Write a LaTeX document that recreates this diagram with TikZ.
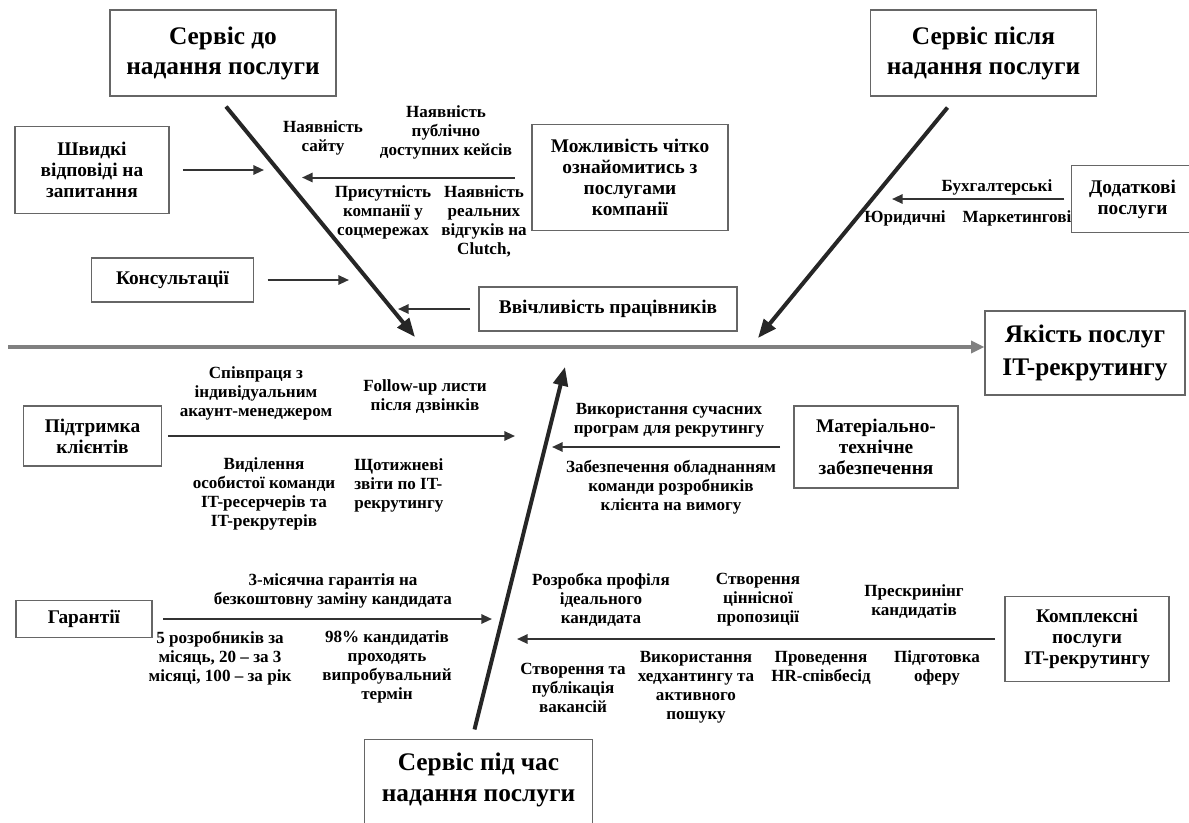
\documentclass[tikz,border=0pt]{standalone}
\usepackage{fontspec}
\setmainfont{Liberation Serif}
\usetikzlibrary{arrows.meta}

\begin{document}
\begin{tikzpicture}[x=0.75pt,y=-0.75pt,
  box/.style={draw=black!60,line width=0.8pt,align=center,inner sep=2pt,font=\bfseries\fontsize{14.5}{15.8}\selectfont},
  head/.style={box,font=\bfseries\fontsize{19}{22.5}\selectfont},
  lbl/.style={align=center,inner sep=0pt,font=\bfseries\fontsize{12.8}{14.3}\selectfont},
  bone/.style={line width=3pt,draw=black!85,-{Triangle[length=14pt,width=11pt]}},
  twig/.style={line width=1.5pt,draw=black!80,-{Triangle[length=8pt,width=7pt]}},
  spine/.style={line width=3.5pt,draw=black!50,-{Triangle[length=10pt,width=9pt]}}]
  \useasboundingbox (0,0) rectangle (1189,822);

  % heads of the bones
  \node[head,minimum width=169.5pt,minimum height=64.5pt] (pre) at (223,53) {Сервіс до\\надання послуги};
  \node[head,minimum width=170pt,minimum height=64.5pt] (post) at (983.5,53) {Сервіс після\\надання послуги};
  \node[head,minimum width=150pt,minimum height=63pt,font=\bfseries\fontsize{19}{25}\selectfont] (quality) at (1085,353) {Якість послуг\\IT-рекрутингу};
  \node[head,draw=none,minimum width=170pt,minimum height=60pt,font=\bfseries\fontsize{19}{23}\selectfont] (during) at (478.5,780) {Сервіс під час\\надання послуги};
  \draw[black!60,line width=0.8pt] ([yshift=-6pt]during.south west) -- (during.north west) -- (during.north east) -- ([yshift=-6pt]during.south east);

  % causes
  \node[box,minimum width=115.5pt,minimum height=65pt] (fast) at (92,170) {Швидкі\\відповіді на\\запитання};
  \node[box,minimum width=122pt,minimum height=33pt] (consult) at (172.5,280) {Консультації};
  \node[box,minimum width=147pt,minimum height=79pt] (info) at (630,177.5) {Можливість чітко\\ознайомитись з\\послугами\\компанії};
  \node[box,minimum width=193.5pt,minimum height=33pt] (polite) at (608,309) {Ввічливість працівників};
  \node[box,minimum width=91.5pt,minimum height=50pt] (extra) at (1132.5,199) {Додаткові\\послуги};
  \node[box,minimum width=103pt,minimum height=45pt] (support) at (92.5,436) {Підтримка\\клієнтів};
  \node[box,minimum width=123pt,minimum height=61.5pt] (mat) at (876,447) {Матеріально-\\технічне\\забезпечення};
  \node[box,minimum width=102pt,minimum height=28pt] (guar) at (84,619) {Гарантії};
  \node[box,minimum width=123pt,minimum height=64pt] (complex) at (1087,639) {Комплексні\\послуги\\IT-рекрутингу};

  % spine and bones
  \coordinate (tail) at (8,347);
  \coordinate (tipA) at (415,337);
  \coordinate (tipB) at (758,338);
  \coordinate (tipC) at (565,367);
  \draw[spine] (tail) -- (tail -| quality.west);
  \draw[bone] ([shift={(3,10)}]pre.south) -- (tipA);
  \draw[bone] ([shift={(-36,11)}]post.south) -- (tipB);
  \draw[bone] ([shift={(-4,-10)}]during.north) -- (tipC);

  % twigs
  \foreach \b/\x/\g in {fast/264/10,consult/349/10,info/302/12.5,polite/398/6,extra/892/5,
                        support/515/5,mat/552/10,guar/492/8,complex/517/7}{
    \coordinate (\b-end) at (\b -| \x,0);
    \draw[twig,shorten <=\g pt] (\b) -- (\b-end);
  }

  \node[lbl] (site) at (323,138) {Наявність\\сайту};
  \node[lbl] (cases) at (446,132) {Наявність\\публічно\\доступних кейсів};
  \node[lbl] (social) at (383,212) {Присутність\\компанії у\\соцмережах};
  \node[lbl] (clutch) at (484,221) {Наявність\\реальних\\відгуків на\\Clutch,};
  \node[lbl] (acc) at (997,187) {Бухгалтерські};
  \node[lbl] (law) at (905,218) {Юридичні};
  \node[lbl] (mkt) at (1017,218) {Маркетингові};
  \node[lbl] (manager) at (256,393) {Співпраця з\\індивідуальним\\акаунт-менеджером};
  \node[lbl] (follow) at (425,397) {Follow-up листи\\після дзвінків};
  \node[lbl] (team) at (264,494) {Виділення\\особистої команди\\IT-ресерчерів та\\IT-рекрутерів};
  \node[lbl,align=left,anchor=west] (weekly) at (354,485) {Щотижневі\\звіти по IT-\\рекрутингу};
  \node[lbl] (soft) at (669,420) {Використання сучасних\\програм для рекрутингу};
  \node[lbl] (gear) at (671,487) {Забезпечення обладнанням\\команди розробників\\клієнта на вимогу};
  \node[lbl] (swap) at (333,591) {3-місячна гарантія на\\безкоштовну заміну кандидата};
  \node[lbl] (rate) at (220,658) {5 розробників за\\місяць, 20 – за 3\\місяці, 100 – за рік};
  \node[lbl] (trial) at (387,667) {98\% кандидатів\\проходять\\випробувальний\\термін};
  \node[lbl] (profile) at (601,600) {Розробка профіля\\ідеального\\кандидата};
  \node[lbl] (value) at (758,600) {Створення\\ціннісної\\пропозиції};
  \node[lbl] (screen) at (914,602) {Прескринінг\\кандидатів};
  \node[lbl] (vacancy) at (573,688) {Створення та\\публікація\\вакансій};
  \node[lbl] (hunt) at (696,687) {Використання\\хедхантингу та\\активного\\пошуку};
  \node[lbl] (hr) at (821,668) {Проведення\\HR-співбесід};
  \node[lbl] (offer) at (937,668) {Підготовка\\оферу};
\end{tikzpicture}
\end{document}
